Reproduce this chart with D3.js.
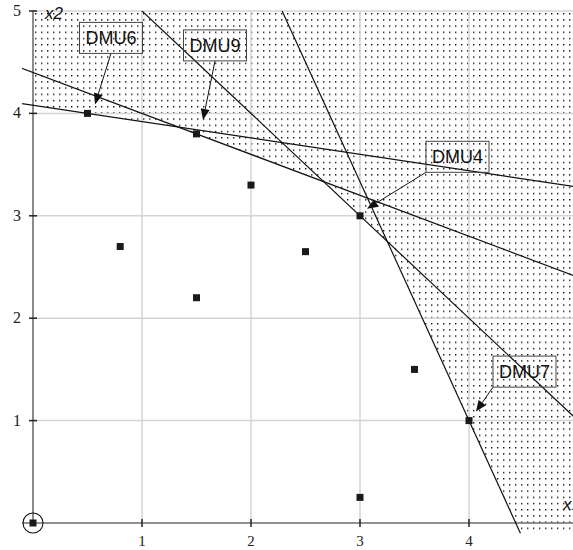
<!DOCTYPE html>
<html>
<head>
<meta charset="utf-8">
<script src="https://cdn.jsdelivr.net/npm/d3@7"></script>
<style>
  html, body { margin: 0; padding: 0; background: #fff; }
  svg { display: block; }
</style>
</head>
<body>
<svg id="chart" width="573" height="550"></svg>
<script>
// Observed DMU outputs (x1, x2)
const pointX = [0, 0.5, 0.8, 1.5, 1.5, 2, 2.5, 3, 3, 3.5, 4];
const pointY = [0, 4, 2.7, 3.8, 2.2, 3.3, 2.65, 3, 0.25, 1.5, 1];

// Labelled efficient DMUs and the slope of the supporting line through each
const dmuNames = ["DMU6", "DMU9", "DMU4", "DMU7"];
const dmuX = [0.5, 1.5, 3, 4];
const dmuY = [4, 3.8, 3, 1];
const lineSlopes = [-0.16, -0.4, -1, -7 / 3];

const xTicks = [1, 2, 3, 4];
const yTicks = [1, 2, 3, 4, 5];
const xTickLabels = ["1", "2", "3", "4"];
const yTickLabels = ["1", "2", "3", "4", "5"];

// Callout placement (pixel offsets from the DMU point)
const calloutLayout = [
  { box: [23.5, -75.5], tip: [7.5, -9], anchor: [0.5, 1] },
  { box: [18.5, -88.5], tip: [6.5, -14], anchor: [0.5, 1] },
  { box: [97.5, -59], tip: [7, -7], anchor: [0, 1] },
  { box: [55.5, -49], tip: [7, -9], anchor: [0, 1] }
];

const W = 573, H = 550;
const svg = d3.select("#chart");

const x = d3.scaleLinear().domain([0, 1]).range([33, 142]);
const y = d3.scaleLinear().domain([0, 5]).range([523, 11]);

const xMin = -0.1, yMin = -0.1, yMax = 5;
const xMax = x.invert(W);

const defs = svg.append("defs");
defs.append("clipPath").attr("id", "plotClip")
  .append("rect")
  .attr("x", x(xMin)).attr("y", y(yMax))
  .attr("width", x(xMax) - x(xMin)).attr("height", y(yMin) - y(yMax));

const pat = defs.append("pattern")
  .attr("id", "dots").attr("patternUnits", "userSpaceOnUse")
  .attr("x", x(0) + 2).attr("y", y(yMax) + 2)
  .attr("width", 6).attr("height", 6.2);
pat.append("rect").attr("width", 1.4).attr("height", 1.4).attr("fill", "#111");

// Supporting lines y = yi + m (x - xi)
const lineFns = lineSlopes.map((m, i) => (v => dmuY[i] + m * (v - dmuX[i])));
const envelope = v => d3.min(lineFns, f => f(v));

// Candidate breakpoints of the lower envelope
const cands = [0, xMax];
for (let i = 0; i < lineSlopes.length; i++) {
  for (let j = i + 1; j < lineSlopes.length; j++) {
    const mi = lineSlopes[i], mj = lineSlopes[j];
    const bi = dmuY[i] - mi * dmuX[i], bj = dmuY[j] - mj * dmuX[j];
    if (mi !== mj) cands.push((bj - bi) / (mi - mj));
  }
  const b = dmuY[i] - lineSlopes[i] * dmuX[i];
  cands.push((yMin - b) / lineSlopes[i]);
}
const xs = cands.filter(v => v >= 0 && v <= xMax).sort((a, b) => a - b);
const hull = [[0, yMin]];
xs.forEach(v => hull.push([v, Math.min(yMax, Math.max(yMin, envelope(v)))]));
hull.push([xMax, yMin]);

const polyPath = pts => "M" + pts.map(p => x(p[0]) + "," + y(p[1])).join("L") + "Z";
const outer = [[0, yMin], [0, yMax], [xMax, yMax], [xMax, yMin]];

// Dotted region: everything above at least one supporting line
svg.append("path")
  .attr("d", polyPath(outer) + polyPath(hull))
  .attr("fill", "url(#dots)")
  .attr("fill-rule", "evenodd");

// Grid
const grid = svg.append("g").attr("stroke", "#d4d4d4").attr("stroke-width", 1.5);
grid.selectAll("line.v").data(xTicks).join("line")
  .attr("x1", d => x(d)).attr("x2", d => x(d))
  .attr("y1", y(yMax)).attr("y2", y(0));
grid.selectAll("line.h").data(yTicks).join("line")
  .attr("x1", x(0)).attr("x2", W)
  .attr("y1", d => y(d)).attr("y2", d => y(d));

// Axes
const axisG = svg.append("g").attr("stroke", "#6e6e6e").attr("stroke-width", 1.6);
axisG.append("line").attr("x1", x(xMin)).attr("x2", W).attr("y1", y(0)).attr("y2", y(0));
axisG.append("line").attr("x1", x(0)).attr("x2", x(0)).attr("y1", y(yMax)).attr("y2", y(0));

const tickG = svg.append("g").attr("stroke", "#222").attr("stroke-width", 1.5);
tickG.selectAll("line.xt").data(xTicks).join("line")
  .attr("x1", d => x(d)).attr("x2", d => x(d))
  .attr("y1", y(0) - 4).attr("y2", y(0) + 4);
tickG.selectAll("line.yt").data(yTicks).join("line")
  .attr("x1", x(0) - 4).attr("x2", x(0) + 4)
  .attr("y1", d => y(d)).attr("y2", d => y(d));

svg.append("g").selectAll("text").data(xTicks).join("text")
  .attr("x", d => x(d)).attr("y", y(0) + 23)
  .attr("text-anchor", "middle")
  .attr("font-family", "Liberation Serif, Times New Roman, serif")
  .attr("font-size", 15).attr("fill", "#222")
  .text((d, i) => xTickLabels[i]);

svg.append("g").selectAll("text").data(yTicks).join("text")
  .attr("x", x(0) - 12).attr("y", d => y(d) + 5)
  .attr("text-anchor", "end")
  .attr("font-family", "Liberation Serif, Times New Roman, serif")
  .attr("font-size", 16).attr("fill", "#222")
  .text((d, i) => yTickLabels[i]);

// Axis titles
svg.append("text").attr("x", x(0) + 12).attr("y", y(yMax) + 8)
  .attr("font-family", "Liberation Sans, Arial, sans-serif")
  .attr("font-style", "italic").attr("font-size", 17).attr("fill", "#111")
  .text("x2");
svg.append("text").attr("x", W - 10).attr("y", y(0) - 13)
  .attr("font-family", "Liberation Sans, Arial, sans-serif")
  .attr("font-style", "italic").attr("font-size", 17).attr("fill", "#111")
  .text("x1");

// Supporting lines, clipped to the plot rectangle
const lineGen = d3.line().x(d => x(d[0])).y(d => y(d[1]));
svg.append("g").attr("clip-path", "url(#plotClip)")
  .selectAll("path").data(lineFns).join("path")
  .attr("d", f => lineGen([[-1, f(-1)], [6, f(6)]]))
  .attr("fill", "none").attr("stroke", "#111").attr("stroke-width", 1.2);

// Origin marker
svg.append("circle").attr("cx", x(0)).attr("cy", y(0)).attr("r", 10)
  .attr("fill", "none").attr("stroke", "#111").attr("stroke-width", 1.1);

// DMU points
svg.append("g").selectAll("rect").data(pointX).join("rect")
  .attr("x", (d, i) => x(d) - 3.5).attr("y", (d, i) => y(pointY[i]) - 3.5)
  .attr("width", 7).attr("height", 7).attr("fill", "#1a1a1a");

// Callouts
const boxW = 63, boxH = 31;
dmuNames.forEach((name, i) => {
  const px = x(dmuX[i]), py = y(dmuY[i]);
  const L = calloutLayout[i];
  const cx = px + L.box[0], cy = py + L.box[1];
  const bx = cx - boxW / 2, by = cy - boxH / 2;
  const sx = bx + L.anchor[0] * boxW, sy = by + L.anchor[1] * boxH;
  const tx = px + L.tip[0], ty = py + L.tip[1];
  const ang = Math.atan2(ty - sy, tx - sx);
  const hl = 11, hw = 4.5;
  const baseX = tx - hl * Math.cos(ang), baseY = ty - hl * Math.sin(ang);
  const g = svg.append("g");
  g.append("line").attr("x1", sx).attr("y1", sy).attr("x2", baseX).attr("y2", baseY)
    .attr("stroke", "#111").attr("stroke-width", 1);
  g.append("path")
    .attr("d", `M${tx},${ty}L${baseX + hw * Math.sin(ang)},${baseY - hw * Math.cos(ang)}L${baseX - hw * Math.sin(ang)},${baseY + hw * Math.cos(ang)}Z`)
    .attr("fill", "#111");
  g.append("rect").attr("x", bx).attr("y", by).attr("width", boxW).attr("height", boxH)
    .attr("fill", "none").attr("stroke", "#444").attr("stroke-width", 1);
  g.append("text").attr("x", cx).attr("y", cy + 6.5)
    .attr("text-anchor", "middle")
    .attr("font-family", "Liberation Sans, Arial, sans-serif")
    .attr("font-size", 18).attr("fill", "#111")
    .text(name);
});
</script>
</body>
</html>
